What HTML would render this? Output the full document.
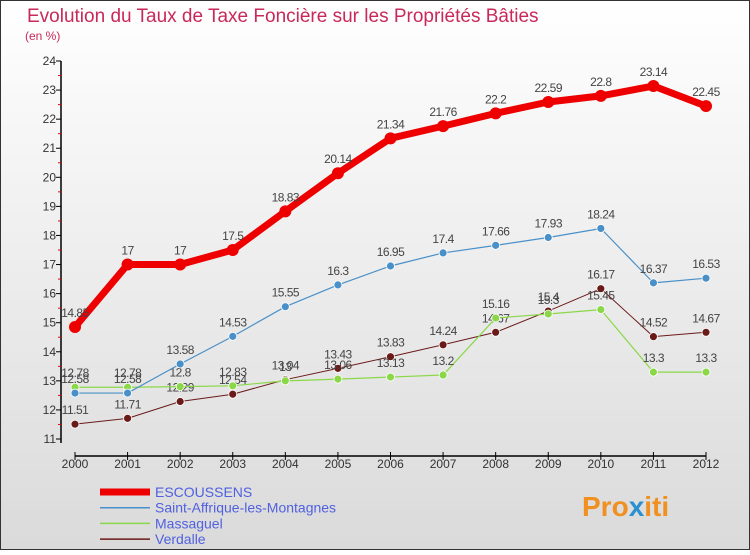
<!DOCTYPE html>
<html><head><meta charset="utf-8"><style>
html,body{margin:0;padding:0;}
body{width:750px;height:550px;overflow:hidden;font-family:"Liberation Sans",sans-serif;}
svg text{font-family:"Liberation Sans",sans-serif;}
</style></head><body>
<svg id="chart" width="750" height="550" xmlns="http://www.w3.org/2000/svg">
<defs><linearGradient id="bg" x1="0" y1="0" x2="0" y2="1"><stop offset="0" stop-color="#ffffff"/><stop offset="1" stop-color="#dadada"/></linearGradient></defs>
<rect x="0.5" y="0.5" width="749" height="549" fill="url(#bg)" stroke="#333"/>
<text x="27" y="22" font-size="19" fill="#c8285a">Evolution du Taux de Taxe Foncière sur les Propriétés Bâties</text>
<text x="25" y="40" font-size="12" fill="#c8285a">(en %)</text>
<g id="axes"></g>
<g id="series"></g>
<g id="legend"></g>
<text x="582" y="516" font-size="28" font-weight="bold" fill="#f09020">Pro<tspan fill="#2a90d0">x</tspan>iti</text>
</svg>
<script>
const years=[2000,2001,2002,2003,2004,2005,2006,2007,2008,2009,2010,2011,2012];
const escoussens=[14.85,17,17,17.5,18.83,20.14,21.34,21.76,22.2,22.59,22.8,23.14,22.45];
const saintAffrique=[12.58,12.58,13.58,14.53,15.55,16.3,16.95,17.4,17.66,17.93,18.24,16.37,16.53];
const massaguel=[12.78,12.78,12.8,12.83,13,13.06,13.13,13.2,15.16,15.3,15.45,13.3,13.3];
const verdalle=[11.51,11.71,12.29,12.54,13.04,13.43,13.83,14.24,14.67,15.4,16.17,14.52,14.67];
const yTicks=[11,12,13,14,15,16,17,18,19,20,21,22,23,24];
const seriesNames=["ESCOUSSENS","Saint-Affrique-les-Montagnes","Massaguel","Verdalle"];
const NS="http://www.w3.org/2000/svg";
const x=i=>75+i*(706-75)/(years.length-1);
const y=v=>439-(v-11)*(439-61)/13;
function mk(tag,attrs,parent,txt){const e=document.createElementNS(NS,tag);for(const k in attrs)e.setAttribute(k,attrs[k]);if(txt!==undefined)e.textContent=txt;parent.appendChild(e);return e;}
const axes=document.getElementById('axes');
let e=mk('line',{x1:61,y1:61,x2:61,y2:443,stroke:'#000','stroke-width':1.5},axes);


e=mk('line',{x1:75,y1:456,x2:706,y2:456,stroke:'#000','stroke-width':1.5},axes);


yTicks.forEach((t,i)=>{
 mk('line',{x1:56,y1:y(t),x2:61,y2:y(t),stroke:'#000'},axes);
 if(i<yTicks.length-1) mk('line',{x1:58,y1:y(t+0.5),x2:61,y2:y(t+0.5),stroke:'#e00'},axes);
 const l=mk('text',{x:56,y:y(t)+4,'font-size':12,'text-anchor':'end',fill:'#333'},axes,String(t));
 
 
});
years.forEach((yr,i)=>{
 mk('line',{x1:x(i),y1:452,x2:x(i),y2:460,stroke:'#000'},axes);
 const l=mk('text',{x:x(i),y:468,'font-size':12,'text-anchor':'middle',fill:'#333'},axes,String(yr));
 
 
});
const S=document.getElementById('series');
const defs=[
 {d:verdalle,c:'#6b1a1a',w:1,r:4,n:'verdalle'},
 {d:massaguel,c:'#8ad848',w:1.2,r:4,n:'massaguel'},
 {d:saintAffrique,c:'#4a90c8',w:1.2,r:4,n:'saint-affrique'},
 {d:escoussens,c:'#ee0000',w:7,r:6,n:'escoussens'}
];
defs.forEach(s=>{
 const g=mk('g',{},S);
 
 
 const p=mk('polyline',{points:s.d.map((v,i)=>x(i)+','+y(v)).join(' '),fill:'none',stroke:s.c,'stroke-width':s.w,'stroke-linejoin':'round'},g);
 
 
 s.d.forEach((v,i)=>{
  const c=mk('circle',{cx:x(i),cy:y(v),r:s.r,fill:s.c,stroke:s.n==='escoussens'?'none':'#fff','stroke-width':0.8},g);
  
  
  const t=mk('text',{x:x(i),y:y(v)-10,'font-size':12,'text-anchor':'middle',fill:'#444','letter-spacing':'-0.5'},g,String(v));
  
  
 });
});
const L=document.getElementById('legend');
const lc=['#ee0000','#4a90c8','#8ad848','#6b1a1a'];const lw=[7,1.5,1.5,1.5];
seriesNames.forEach((n,i)=>{
 const yy=492+i*15.7;
 const g=mk('g',{},L);
 
 
 mk('line',{x1:100,y1:yy,x2:150,y2:yy,stroke:lc[i],'stroke-width':lw[i]},g);
 mk('text',{x:155,y:yy+5,'font-size':14,fill:'#5060e0'},g,n);
});
</script>
</body></html>
